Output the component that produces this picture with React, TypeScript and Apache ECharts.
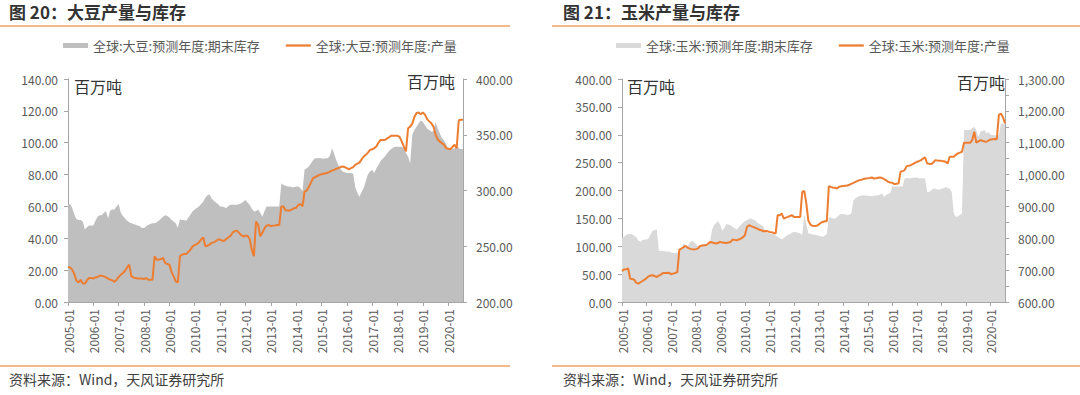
import React, { useEffect, useRef } from "react";
import * as echarts from "echarts";

const FONT = '"Noto Sans CJK SC", "Noto Sans", sans-serif';

const months: string[] = [];
for (let y = 2005; y <= 2020; y++) {
  for (let m = 1; m <= 12; m++) {
    if (y === 2020 && m > 8) break;
    months.push(`${y}-${String(m).padStart(2, "0")}`);
  }
}

const soyStockName = "全球:大豆:预测年度:期末库存";
const soyProdName = "全球:大豆:预测年度:产量";
const cornStockName = "全球:玉米:预测年度:期末库存";
const cornProdName = "全球:玉米:预测年度:产量";

const soyStock = [
  61, 61.5, 59, 55, 52, 51.5, 51.5, 50.5, 45.5, 47, 48, 48,
  48, 51, 53.5, 54.5, 54.5, 56, 57, 52.5, 57.5, 58, 58, 60,
  61.5, 56, 54, 52.5, 51, 50, 49.5, 49, 48.5, 48, 47.5, 46.5,
  46.5, 47.5, 48.5, 49, 49.5, 49.5, 50, 51, 52.5, 53.5, 54.5, 54,
  53, 51.5, 50.5, 49.5, 46.5, 52, 51.5, 51.5, 51, 53, 55, 57,
  58, 59, 60, 61.5, 63, 65.5, 67, 67.5, 65, 63.5, 62.5, 61.5,
  60, 60, 59.5, 59, 60.5, 61, 61, 61, 61, 61.5, 62, 63,
  64, 62.5, 61, 58.5, 57, 57, 58, 56, 53.5, 57, 60, 60,
  60, 60, 60, 60, 60, 74.5, 73.5, 73, 72.5, 72.5, 72, 72,
  72.5, 72.5, 71.5, 69.5, 83, 84, 85, 87, 89, 90.3, 90.3, 90.3,
  90.3, 90, 90.3, 90.3, 92, 96.5, 93, 89, 86, 83.5, 82, 81.5,
  81, 81, 81, 80.5, 72, 68.5, 66, 69, 71.5, 76, 80, 82,
  83, 81, 84, 86, 88.5, 90, 91.3, 93, 95, 96, 97, 97.5,
  97.5, 97.5, 97.5, 96.5, 93.5, 91.3, 87, 105, 108, 110, 112, 114,
  113, 111, 109, 108, 107, 107, 113, 109, 106, 103, 101.5, 99,
  96.5, 95.5, 96, 96.5, 98.5, 96.5, 96, 96,
];

const soyProd = [
  231.5, 231, 229, 225, 219, 217.5, 220, 216.5, 216.5, 219.5, 221.5, 221.5,
  221, 222, 222.5, 223.5, 223.5, 223, 222, 221, 220, 219.5, 218, 220,
  222.5, 224.5, 226, 228, 231, 233.5, 223, 222, 221.5, 221, 221, 221,
  220.5, 221.5, 220, 220, 220, 241, 238, 238, 238.5, 239.5, 235, 234,
  233.5, 227, 223, 218.5, 217.5, 241, 242.5, 243, 243, 245, 247, 250,
  251, 252, 253.5, 256, 258, 250, 250.5, 251.5, 253, 253.5, 254.5, 256,
  256, 255, 255, 256.7, 258, 259.5, 262.4, 263.5, 264, 262, 260, 258.8,
  259.4, 259.4, 256.5, 247, 241, 272, 269.5, 259, 262, 266, 268.5, 269,
  268, 268.5, 268.7, 269, 269, 285.7, 285.7, 282, 282, 282, 283, 284,
  284.5, 287, 287.8, 285.7, 299, 300, 303, 307, 311, 312, 313, 314,
  314.5, 315, 315.5, 316, 317, 318, 318.5, 319.5, 320, 321, 321.5, 321,
  320, 319, 320, 321, 323, 324, 325, 328, 330.5, 332, 334, 336.4,
  337, 338, 339.4, 343, 345.4, 345.4, 345.4, 346.5, 347.8, 349, 349, 349,
  349, 348, 344, 339.4, 335, 355.8, 357.3, 360, 366, 369.5, 370, 368.4,
  370, 368, 364, 362, 360.3, 357.3, 350, 346, 344, 342.5, 341, 338,
  337.5, 337, 339, 341, 338, 363, 363.5, 363.5,
];

const cornStock = [
  115, 117, 120, 122, 122, 121, 119, 116, 110, 108, 111, 112,
  112, 114, 122, 128, 129, 130, 92, 92, 91.5, 91, 90, 91,
  89, 88, 88, 89, 91, 95, 105, 102, 100, 106, 110, 108,
  104, 100, 102, 103, 101, 100, 104, 108, 130, 138, 142, 145,
  138, 128, 133, 140, 139, 137, 135, 132, 130, 134, 138, 142,
  145, 147, 149, 150, 148, 146, 143, 140, 138, 136, 125, 124,
  123, 122, 122, 119, 117, 115, 112, 115, 118, 120, 122, 124,
  126, 125, 124, 123, 121, 155, 140, 123, 122.5, 121, 120.5, 120,
  119, 118, 117, 119, 122, 152.6, 151, 150, 150, 152, 156, 158,
  158, 157, 156, 157, 158.6, 182.6, 186, 188.5, 190, 191, 191.5, 191,
  190.5, 190, 189.8, 190.5, 191, 191.5, 193, 194.5, 188.5, 192, 194.5, 195,
  208, 207, 207, 207, 207, 207, 221.5, 222, 222, 222, 223, 223,
  223.3, 222, 222, 222, 221, 197.5, 197.5, 200, 203.5, 203, 202, 202,
  203, 204, 206.5, 205, 203, 197.5, 158.6, 152.6, 154, 156, 158.6, 308.4,
  308.4, 308.4, 308.4, 312, 314, 308, 296.4, 305.4, 307, 308, 302.4, 305,
  300, 299.4, 299, 299, 299, 320, 320, 318,
];

const cornProd = [
  697, 702, 703, 705, 673, 672, 670, 660, 657.6, 662, 666, 670,
  675, 680.6, 683, 684, 681, 678.5, 683, 686, 691, 691, 691, 692,
  687, 689, 691, 694, 764.5, 767.6, 772, 776, 771, 767.6, 766, 764.5,
  766, 767.6, 775, 777, 778, 778, 783, 788.6, 787, 785.4, 783.3, 786,
  788.6, 786.5, 786, 785.4, 787, 788.6, 796, 795, 793.8, 796, 799, 803,
  809.5, 835.7, 841, 838, 835.7, 833, 830.5, 827, 825.3, 822, 823, 822,
  820, 819, 817, 814.8, 872.4, 872.4, 877.7, 862, 865, 867.2, 870, 872.4,
  867.2, 867, 867, 867, 945.8, 949, 909, 855, 843, 839, 838.5, 839,
  843, 848.3, 851, 853.6, 853.6, 963.6, 961, 959, 958.4, 956.3, 961.5, 963,
  964, 965, 965.7, 968, 971, 974, 977, 980, 982.5, 984, 986, 987.7,
  988.5, 989.5, 990.8, 987.7, 988.5, 990, 990.8, 989, 985.6, 982, 977.2, 975,
  974, 970, 971, 972, 1008.7, 1011, 1013.9, 1026.5, 1027.5, 1029.6, 1033, 1037,
  1040, 1042, 1045.3, 1050, 1053.7, 1034.9, 1034, 1032.8, 1038, 1045.3, 1044, 1043.2,
  1043, 1042, 1040, 1034.9, 1055.8, 1055.8, 1055.8, 1062, 1066.3, 1069, 1071.5, 1099.8,
  1099.8, 1099.8, 1099.8, 1108.2, 1134.4, 1099.8, 1104, 1108.2, 1106, 1104, 1103, 1107,
  1110.3, 1111, 1111.4, 1111, 1186.8, 1192, 1180, 1160.6,
];

const ORANGE = "#ED7D31";
const LINE_ORANGE = "#F0A365";
const AXIS_GRAY = "#A6A6A6";
const LABEL = "#595959";
const SOY_GRAY = "#BFBFBF";
const CORN_GRAY = "#D9D9D9";

const fmt2 = (v: number) => v.toFixed(2);
const fmtComma = (v: number) =>
  v.toLocaleString("en-US", { minimumFractionDigits: 2, maximumFractionDigits: 2 });

const yearTick = (i: number) => i % 12 === 0;

const LINE_ICON = "path://M0,0L100,0L100,9L0,9Z";

function xAxis(gridIndex: number) {
  return {
    type: "category",
    gridIndex,
    data: months,
    boundaryGap: false,
    axisLine: { show: true, lineStyle: { color: AXIS_GRAY } },
    axisTick: { show: true, interval: yearTick, length: 4, lineStyle: { color: AXIS_GRAY } },
    axisLabel: {
      interval: yearTick,
      rotate: 90,
      color: LABEL,
      fontSize: 12,
      fontFamily: FONT,
      margin: 7,
    },
    splitLine: { show: false },
  };
}

function yAxis(gridIndex: number, position: string, min: number, max: number, interval: number, fmt: (v: number) => string, margin: number, minor = false) {
  return {
    type: "value",
    gridIndex,
    position,
    min,
    max,
    interval,
    splitLine: { show: false },
    axisLine: { show: true, lineStyle: { color: AXIS_GRAY } },
    axisTick: { show: true, length: 4, lineStyle: { color: AXIS_GRAY } },
    minorTick: { show: minor, splitNumber: 2, length: 4, lineStyle: { color: AXIS_GRAY } },
    axisLabel: { formatter: fmt, color: LABEL, fontSize: 12, fontFamily: FONT, margin },
  };
}

function textEl(text: string, x: number, y: number, font: string, fill: string, align = "left") {
  return {
    type: "text",
    x,
    y,
    style: { text, font, fill, textAlign: align, textVerticalAlign: "middle" },
  };
}

function lineEl(x1: number, y: number, x2: number) {
  return {
    type: "line",
    shape: { x1, y1: y, x2, y2: y },
    style: { stroke: LINE_ORANGE, lineWidth: 1.5 },
  };
}

function legendOf(stockName: string, prodName: string, gray: string, left: number) {
  return {
    data: [
      { name: stockName, icon: "rect", itemStyle: { color: gray } },
      { name: prodName, icon: LINE_ICON, itemStyle: { color: ORANGE } },
    ],
    left,
    top: 39,
    padding: 0,
    itemWidth: 25,
    itemHeight: 5,
    itemGap: 26,
    textStyle: { fontSize: 13, color: LABEL, fontFamily: FONT },
  };
}

export default function App() {
  const ref = useRef<HTMLDivElement>(null);

  useEffect(() => {
    if (!ref.current) return;
    const chart = echarts.init(ref.current, null, { renderer: "svg" });
    const titleFont = `bold 17px ${FONT}`;
    const unitFont = `16px ${FONT}`;
    const footFont = `14px ${FONT}`;
    chart.setOption({
      animation: false,
      backgroundColor: "#ffffff",
      textStyle: { fontFamily: FONT },
      grid: [
        { left: 68, top: 79, width: 395, height: 223 },
        { left: 622, top: 79, width: 383, height: 223 },
      ],
      legend: [
        legendOf(soyStockName, soyProdName, SOY_GRAY, 63),
        legendOf(cornStockName, cornProdName, CORN_GRAY, 616),
      ],
      xAxis: [xAxis(0), xAxis(1)],
      yAxis: [
        yAxis(0, "left", 0, 140, 20, fmt2, 10),
        yAxis(0, "right", 200, 400, 50, fmt2, 13),
        yAxis(1, "left", 0, 400, 50, fmt2, 10),
        yAxis(1, "right", 600, 1300, 100, fmtComma, 13, true),
      ],
      series: [
        {
          name: soyStockName,
          type: "line",
          xAxisIndex: 0,
          yAxisIndex: 0,
          data: soyStock,
          symbol: "none",
          lineStyle: { width: 0, color: SOY_GRAY },
          itemStyle: { color: SOY_GRAY },
          areaStyle: { color: SOY_GRAY, opacity: 1 },
        },
        {
          name: soyProdName,
          type: "line",
          xAxisIndex: 0,
          yAxisIndex: 1,
          data: soyProd,
          symbol: "none",
          lineStyle: { width: 2, color: ORANGE },
          itemStyle: { color: ORANGE },
        },
        {
          name: cornStockName,
          type: "line",
          xAxisIndex: 1,
          yAxisIndex: 2,
          data: cornStock,
          symbol: "none",
          lineStyle: { width: 0, color: CORN_GRAY },
          itemStyle: { color: CORN_GRAY },
          areaStyle: { color: CORN_GRAY, opacity: 1 },
        },
        {
          name: cornProdName,
          type: "line",
          xAxisIndex: 1,
          yAxisIndex: 3,
          data: cornProd,
          symbol: "none",
          lineStyle: { width: 2, color: ORANGE },
          itemStyle: { color: ORANGE },
        },
      ],
      graphic: [
        textEl("图 20：大豆产量与库存", 9, 11, titleFont, "#333333"),
        textEl("图 21：玉米产量与库存", 563, 11, titleFont, "#333333"),
        lineEl(0, 26, 510),
        lineEl(552, 26, 1080),
        textEl("百万吨", 74, 86, unitFont, "#333333"),
        textEl("百万吨", 455, 81, unitFont, "#333333", "right"),
        textEl("百万吨", 627, 86, unitFont, "#333333"),
        textEl("百万吨", 1005, 82, unitFont, "#333333", "right"),
        lineEl(0, 366, 510),
        lineEl(552, 366, 1080),
        textEl("资料来源：Wind，天风证券研究所", 9, 379, footFont, "#404040"),
        textEl("资料来源：Wind，天风证券研究所", 563, 379, footFont, "#404040"),
      ],
    });
    return () => chart.dispose();
  }, []);

  return (
    <div
      ref={ref}
      style={{ position: "absolute", left: 0, top: 0, width: 1080, height: 395, background: "#fff" }}
    />
  );
}
